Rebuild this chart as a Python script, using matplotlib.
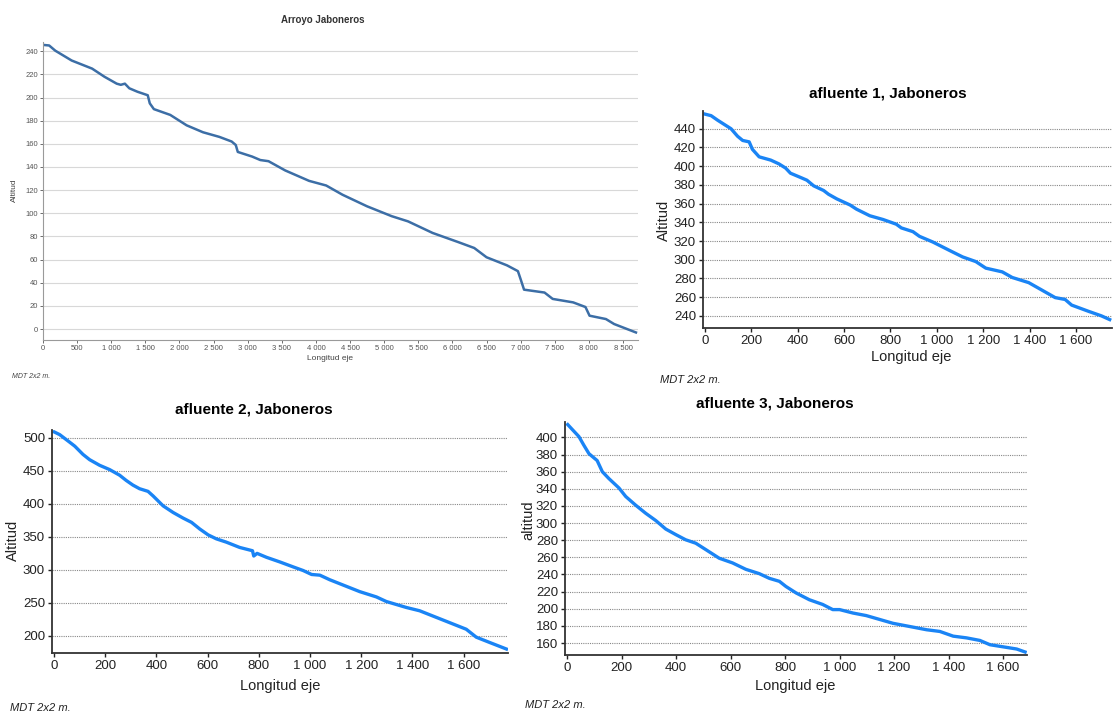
import matplotlib.pyplot as plt
from matplotlib.ticker import FuncFormatter, MultipleLocator

plt.rcParams['font.family'] = ['Liberation Sans', 'DejaVu Sans']

# Perfil Arroyo Jaboneros
arroyo_x = [0, 90, 180, 420, 720, 900, 1080, 1140, 1200, 1265, 1385, 1535, 1565, 1625,
            1865, 2105, 2345, 2585, 2765, 2825, 2855, 3065, 3185, 3305, 3550, 3900,
            4150, 4390, 4750, 5110, 5350, 5710, 6090, 6320, 6500, 6800, 6960, 7000,
            7050, 7350, 7470, 7770, 7950, 8010, 8250, 8370, 8690]
arroyo_y = [245.5, 245, 240.5, 232, 225, 218, 212, 211, 212, 208, 205, 202, 195, 190,
            185, 176, 170, 166, 162, 159, 153, 149, 146, 145, 137, 128,
            124, 116, 106, 97.5, 93, 83, 75, 70, 62, 55, 50, 43,
            34, 31.5, 26, 23, 19, 11.5, 8.6, 4.3, -3]

# afluente 1
af1_x = [0, 27, 56, 113, 141, 163, 191, 205, 234, 284, 319, 348, 369, 412, 440, 469,
         512, 533, 569, 626, 654, 711, 768, 825, 847, 897, 925, 982, 1054, 1111, 1168,
         1211, 1282, 1325, 1396, 1453, 1510, 1553, 1581, 1652, 1709, 1745]
af1_y = [455.7, 454, 449, 440, 432, 427.5, 426, 418, 410, 406.5, 402.5, 398, 392.5, 388,
         385, 379, 374, 370, 365, 358.5, 354, 347, 343, 338, 334, 330, 325, 319, 310,
         303, 298, 291, 287, 281, 275.5, 267.5, 259.5, 257.5, 251.5, 245, 240, 236]

# afluente 2
af2_x = [1, 22, 61, 81, 113, 139, 178, 217, 256, 282, 308, 334, 367, 387, 426, 465, 504,
         537, 569, 602, 634, 673, 725, 775, 780, 793, 830, 882, 934, 973, 1006, 1038,
         1077, 1142, 1194, 1259, 1298, 1376, 1428, 1480, 1545, 1610, 1649, 1701, 1767]
af2_y = [509, 505, 493.5, 487.5, 475, 467, 458.5, 452, 443.5, 435.5, 428.5, 423, 419, 412,
         397, 387, 378.5, 372, 362, 353, 347, 342, 334, 329, 321, 325, 319, 312, 304.5,
         299, 293, 292, 285, 275, 267, 259, 252, 243, 238, 230, 220, 210, 198, 190, 180]

# afluente 3
af3_x = [2, 18, 43, 61, 80, 110, 129, 153, 190, 215, 251, 288, 325, 362, 399, 435, 472,
         509, 558, 607, 656, 705, 742, 779, 803, 840, 889, 938, 975, 1000, 1049, 1098,
         1147, 1196, 1270, 1319, 1368, 1417, 1466, 1515, 1552, 1601, 1650, 1681]
af3_y = [415, 409.5, 401, 391, 381, 373, 360, 352, 341, 331, 321, 311.5, 303, 293, 286.5,
         280.5, 276.5, 269, 259, 253.5, 246, 241, 235.5, 232, 226, 218.5, 210.5, 205,
         199, 199, 195, 192, 187.5, 183, 178.5, 175.5, 173.5, 168, 166, 163, 158, 155.5,
         153, 149.5]

W, H = 1113, 713
fig = plt.figure(figsize=(W / 100, H / 100), dpi=100)


def rect(l, t, r, b):
    return [l / W, (H - b) / H, (r - l) / W, (b - t) / H]


def px(x, y):
    return x / W, (H - y) / H


miles = FuncFormatter(lambda v, p: f"{int(v):,}".replace(",", " "))

# ---- Arroyo Jaboneros (imagen pequeña, estilo distinto)
ax = fig.add_axes(rect(43, 42, 638, 340))
ax.plot(arroyo_x, arroyo_y, color="#3c6ea6", lw=1.8)
ax.set_xlim(0, 8720)
ax.set_ylim(-9.5, 248)
ax.xaxis.set_major_locator(MultipleLocator(500))
ax.yaxis.set_major_locator(MultipleLocator(20))
ax.xaxis.set_major_formatter(miles)
ax.grid(axis="y", color="#d8d8d8", lw=0.8)
ax.set_axisbelow(True)
for s in ["top", "right"]:
    ax.spines[s].set_visible(False)
for s in ["left", "bottom"]:
    ax.spines[s].set_color("#9a9a9a")
    ax.spines[s].set_linewidth(0.8)
ax.tick_params(labelsize=5.5, colors="#555555", length=2, width=0.6, pad=1.5)
fig.text(*px(323, 20), "Arroyo Jaboneros", ha="center", va="center",
         fontsize=7, fontweight="bold", color="#333333")
fig.text(*px(330, 359), "Longitud eje", ha="center", va="center", fontsize=6, color="#444444")
fig.text(*px(14, 190), "Altitud", ha="center", va="center", rotation=90, fontsize=6,
         color="#444444")
fig.text(*px(12, 376), "MDT 2x2 m.", ha="left", va="center", fontsize=5, style="italic",
         color="#444444")


def afluente(box, x, y, xmax, ylim, ystep, title, tpos, xlpos, ylpos, ylabel, mpos):
    a = fig.add_axes(rect(*box))
    a.plot(x, y, color="#1a84f5", lw=2.4)
    a.set_xlim(-8, xmax)
    a.set_ylim(*ylim)
    a.xaxis.set_major_locator(MultipleLocator(200))
    a.yaxis.set_major_locator(MultipleLocator(ystep))
    a.xaxis.set_major_formatter(miles)
    a.grid(axis="y", color="#888888", ls=(0, (1, 1)), lw=0.8)
    a.set_axisbelow(True)
    for s in ["top", "right"]:
        a.spines[s].set_visible(False)
    for s in ["left", "bottom"]:
        a.spines[s].set_color("#333333")
        a.spines[s].set_linewidth(1.3)
    a.tick_params(labelsize=9.5, colors="#222222", length=3, width=1, pad=2)
    fig.text(*px(*tpos), title, ha="center", va="center", fontsize=11, fontweight="bold")
    fig.text(*px(*xlpos), "Longitud eje", ha="center", va="center", fontsize=10.5,
             color="#222222")
    fig.text(*px(*ylpos), ylabel, ha="center", va="center", rotation=90, fontsize=10.5,
             color="#222222")
    fig.text(*px(*mpos), "MDT 2x2 m.", ha="left", va="center", fontsize=8, style="italic",
             color="#222222")
    return a


afluente((703, 111, 1112, 328), af1_x, af1_y, 1755, (227, 459), 20,
         "afluente 1, Jaboneros", (888, 94), (911, 357), (664, 220), "Altitud", (660, 380))
afluente((52, 430, 508, 653), af2_x, af2_y, 1773, (174, 512), 50,
         "afluente 2, Jaboneros", (254, 410), (280, 686), (13, 540), "Altitud", (10, 708))
afluente((565, 422, 1027, 655), af3_x, af3_y, 1688, (146, 418), 20,
         "afluente 3, Jaboneros", (775, 404), (795, 686), (528, 520), "altitud", (525, 705))

fig.savefig("out.png", dpi=100)
